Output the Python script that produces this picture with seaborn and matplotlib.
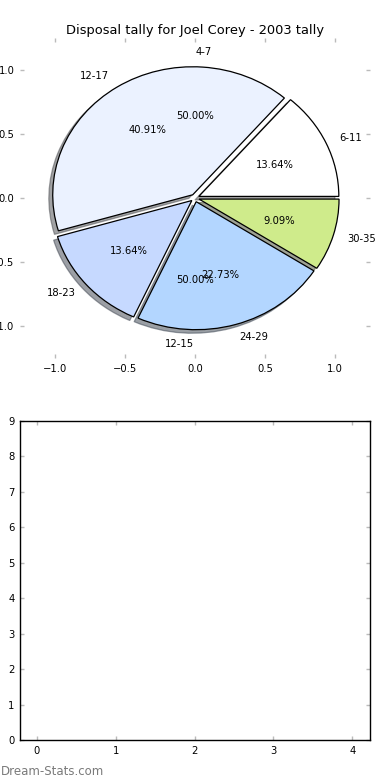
import matplotlib
matplotlib.use("Agg")
import matplotlib.pyplot as plt
import seaborn as sns

sns.set_style("white")
plt.rcParams['font.family'] = ['DejaVu Sans']
plt.rcParams['text.color'] = 'black'

# Data
age_labels = ['6-11', '12-17', '18-23', '24-29', '30-35']
tallies = [3, 9, 3, 5, 2]
wedge_colors = ['#ffffff', '#ebf2ff', '#c6d9ff', '#b3d6ff', '#cfeb8b']
empty_labels = ['4-7', '12-15']
empty_vals = [1, 1]
title = 'Disposal tally for Joel Corey - 2003 tally'
pie_ticks = [-1.0, -0.5, 0.0, 0.5, 1.0]
bar_xticks = [0, 1, 2, 3, 4]
bar_yticks = list(range(10))

FS = 7.2
fig = plt.figure(figsize=(3.9, 7.8), dpi=100)
ax1 = fig.add_axes([20/390, 1 - 358/780, 350/390, 320/780])
ax2 = fig.add_axes([20/390, 40/780, 350/390, 319/780])

ax1.pie(tallies, labels=age_labels, colors=wedge_colors, explode=[0.03]*len(tallies),
        autopct='%1.2f%%', shadow=True,
        wedgeprops=dict(edgecolor='black', linewidth=0.9),
        textprops=dict(fontsize=FS, color='black'))
ax1.pie(empty_vals, labels=empty_labels, autopct='%1.2f%%', explode=[0.04, 0.04],
        startangle=-0.2,
        wedgeprops=dict(alpha=0.0), textprops=dict(fontsize=FS, color='black'))

ax1.set_aspect('auto')
ax1.set_frame_on(False)
ax1.set_xlim(-1.25, 1.25)
ax1.set_ylim(-1.25, 1.25)
ax1.set_xticks(pie_ticks)
ax1.set_yticks(pie_ticks)
ax1.set_title(title, fontsize=9.35, pad=3, color='black')

for ax in (ax1, ax2):
    ax.tick_params(axis='both', which='both', direction='in', length=3, width=1,
                   color='#bbbbbb', labelsize=FS, labelcolor='black',
                   top=True, right=True, bottom=True, left=True, pad=4)

ax2.set_xlim(-0.215, 4.225)
ax2.set_ylim(0, 9)
ax2.set_xticks(bar_xticks)
ax2.set_yticks(bar_yticks)
for s in ax2.spines.values():
    s.set_visible(True)
    s.set_color('black')
    s.set_linewidth(1)

fig.text(0.002, 5/780, 'Dream-Stats.com', color='#7a7a7a', fontsize=8.5, va='baseline')

fig.savefig('out.png', dpi=100)
